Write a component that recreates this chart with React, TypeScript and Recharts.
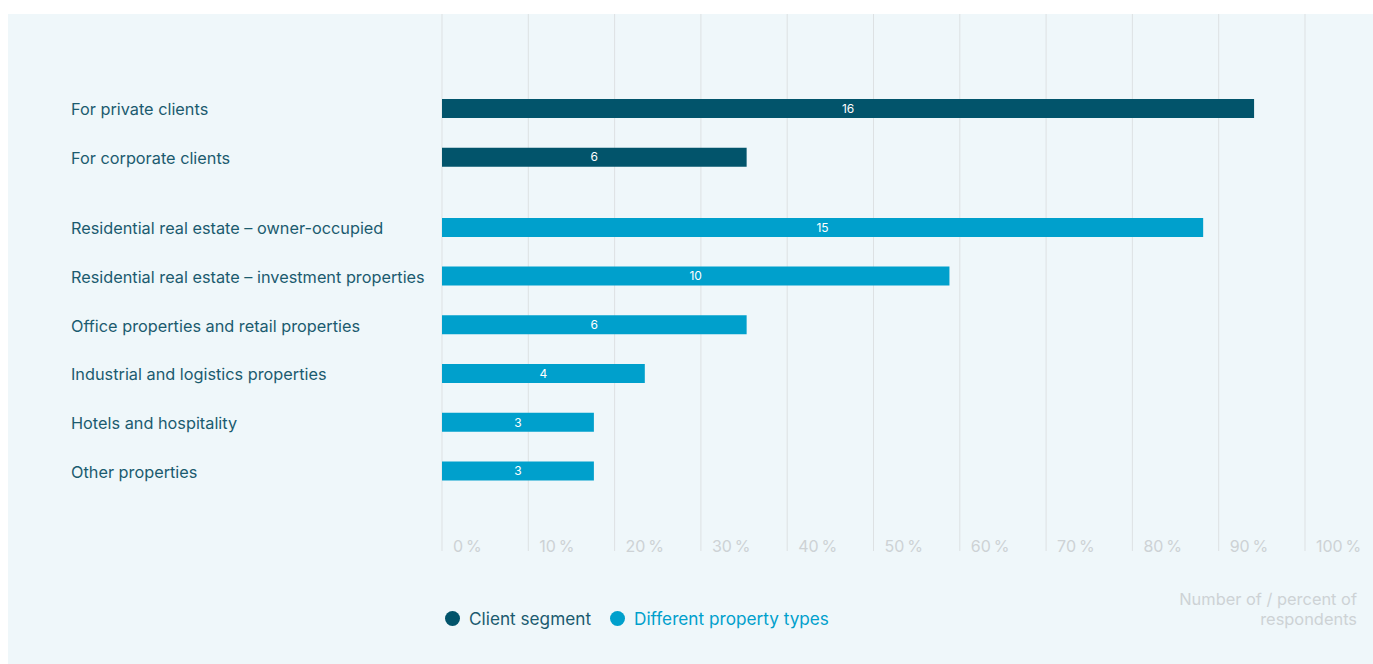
import React from 'react';
import {
  BarChart,
  Bar,
  XAxis,
  YAxis,
  CartesianGrid,
  Legend,
  LabelList,
} from 'recharts';

// rows top to bottom
const categories = [
  'For private clients',
  'For corporate clients',
  'Residential real estate – owner-occupied',
  'Residential real estate – investment properties',
  'Office properties and retail properties',
  'Industrial and logistics properties',
  'Hotels and hospitality',
  'Other properties',
];
const groups = ['client', 'client', 'property', 'property', 'property', 'property', 'property', 'property'];
const percentValues = [94.1, 35.3, 88.2, 58.8, 35.3, 23.5, 17.6, 17.6];
const respondentCounts = [16, 6, 15, 10, 6, 4, 3, 3];
const percentTicks = [0, 10, 20, 30, 40, 50, 60, 70, 80, 90, 100];
const seriesNames = { client: 'Client segment', property: 'Different property types' };

const DARK = '#02546b';
const LIGHT = '#00a0cc';
const LABEL = '#1b5b6f';
const FAINT = '#cdd2d5';
const FONT = 'Inter, "Noto Sans", sans-serif';

// extra space between the two groups, in rows
const GROUP_GAP = 0.44;

const data = categories.map((label, i) => {
  const pos = i + (groups[i] === 'property' ? GROUP_GAP : 0);
  const isClient = groups[i] === 'client';
  return {
    label,
    pos,
    client: isClient ? percentValues[i] : null,
    property: isClient ? null : percentValues[i],
    clientCount: isClient ? respondentCounts[i] : null,
    propertyCount: isClient ? null : respondentCounts[i],
  };
});

const rowTicks = data.map((d) => d.pos);

const RowTick = ({ y, payload }: any) => {
  const row = data.find((d) => Math.abs(d.pos - payload.value) < 0.001);
  return (
    <text x={63} y={y + 1} dy="0.36em" fill={LABEL} fontSize={16.3} fontFamily={FONT}>
      {row ? row.label : ''}
    </text>
  );
};

const PercentTick = ({ x, payload }: any) => (
  <text x={x + 11} y={537.5} fill={FAINT} fontSize={16} fontFamily={FONT}>
    {`${payload.value}\u202F%`}
  </text>
);

const LegendContent = ({ payload }: any) => (
  <div style={{ position: 'relative', height: 60, fontFamily: FONT }}>
    <div style={{ position: 'absolute', left: 437, top: 0, display: 'flex', alignItems: 'center', height: 20 }}>
      {(payload || []).map((p: any) => (
        <div key={p.value} style={{ display: 'flex', alignItems: 'center', marginRight: 19 }}>
          <span
            style={{ width: 15, height: 15, borderRadius: '50%', background: p.color, display: 'inline-block', marginRight: 9 }}
          />
          <span style={{ fontSize: 17.2, color: p.color === LIGHT ? LIGHT : LABEL }}>{p.value}</span>
        </div>
      ))}
    </div>
    <div
      style={{
        position: 'absolute',
        right: 16,
        top: -19,
        textAlign: 'right',
        fontSize: 16.4,
        lineHeight: '20px',
        color: FAINT,
      }}
    >
      Number of / percent of
      <br />
      respondents
    </div>
  </div>
);

export default function App() {
  return (
    <div style={{ width: 1373, height: 664, position: 'relative' }}>
      <style>{'body{margin:0;overflow:hidden}'}</style>
      <div style={{ position: 'absolute', left: 8, top: 14, width: 1365, height: 650, background: '#eff7fa' }}>
        <BarChart
          width={1365}
          height={650}
          data={data}
          layout="vertical"
          margin={{ top: 0, right: 68, bottom: 83, left: 0 }}
        >
          <CartesianGrid horizontal={false} stroke="#dde1e3" />
          <XAxis
            type="number"
            domain={[0, 100]}
            ticks={percentTicks}
            interval={0}
            axisLine={false}
            tickLine={false}
            height={30}
            tick={<PercentTick />}
          />
          <YAxis
            type="number"
            dataKey="pos"
            domain={[-1.936, 9.084]}
            ticks={rowTicks}
            interval={0}
            allowDataOverflow
            axisLine={false}
            tickLine={false}
            width={434}
            tick={<RowTick />}
          />
          <Legend
            layout="horizontal"
            verticalAlign="middle"
            align="center"
            wrapperStyle={{ left: 0, top: 594, width: 1365, height: 60 }}
            content={<LegendContent />}
          />
          <Bar dataKey="client" name={seriesNames.client} stackId="s" fill={DARK} barSize={19} isAnimationActive={false}>
            <LabelList dataKey="clientCount" position="center" fill="#ffffff" fontSize={12} fontFamily={FONT} />
          </Bar>
          <Bar dataKey="property" name={seriesNames.property} stackId="s" fill={LIGHT} barSize={19} isAnimationActive={false}>
            <LabelList dataKey="propertyCount" position="center" fill="#ffffff" fontSize={12} fontFamily={FONT} />
          </Bar>
        </BarChart>
      </div>
    </div>
  );
}
